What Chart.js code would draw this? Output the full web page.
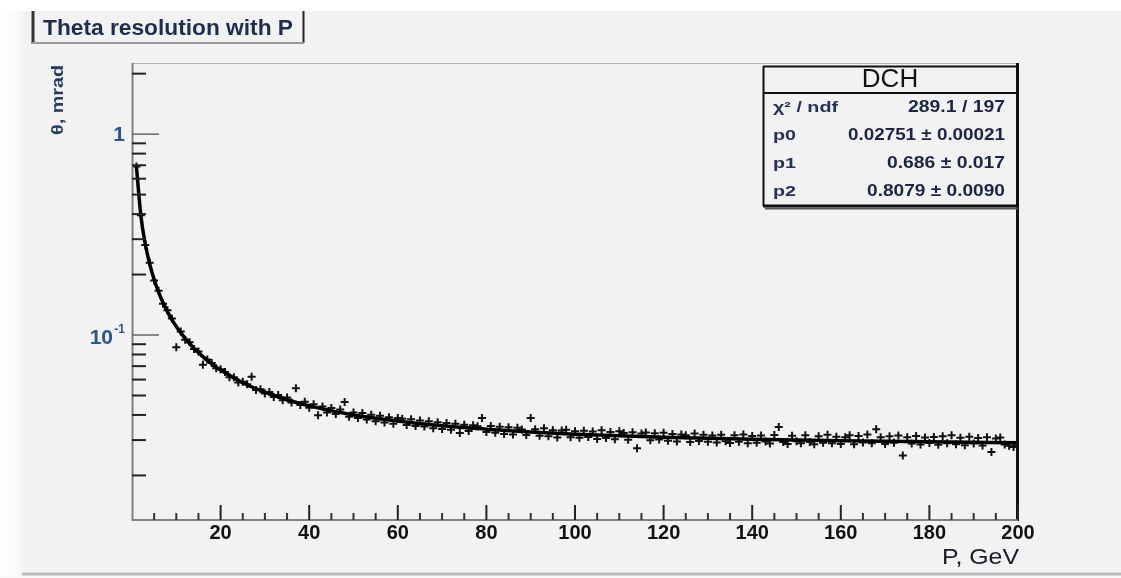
<!DOCTYPE html>
<html>
<head>
<meta charset="utf-8">
<script src="https://cdn.jsdelivr.net/npm/chart.js@4.4.1/dist/chart.umd.min.js"></script>
<style>
  html, body { margin: 0; background: #f2f2f2; overflow: hidden; }
  canvas { display: block; filter: blur(0.5px); }
</style>
</head>
<body>
<canvas id="myChart" width="1121" height="578"></canvas>
<script>
// bins in P (GeV), one per GeV, first bin at 1
const binFirst = 1;

// theta resolution per bin (mrad)
const thetaVals = [
  0.690, 0.395, 0.281, 0.229, 0.187, 0.166, 0.143, 0.133, 0.121, 0.087,
  0.1040, 0.0948, 0.0921, 0.0852, 0.0829, 0.0712, 0.0755, 0.0726, 0.0684, 0.0675,
  0.0655, 0.0617, 0.0616, 0.0581, 0.0586, 0.0568, 0.0620, 0.0532, 0.0537, 0.0512,
  0.0521, 0.0492, 0.0503, 0.0474, 0.0488, 0.0461, 0.0544, 0.0448, 0.0465, 0.0434,
  0.0452, 0.0399, 0.0441, 0.0412, 0.0433, 0.0404, 0.0426, 0.0464, 0.0392, 0.0411,
  0.0386, 0.0409, 0.0380, 0.0401, 0.0372, 0.0396, 0.0367, 0.0390, 0.0362, 0.0386,
  0.0383, 0.0357, 0.0381, 0.0352, 0.0375, 0.0350, 0.0372, 0.0343, 0.0368, 0.0341,
  0.0365, 0.0338, 0.0362, 0.0325, 0.0358, 0.0333, 0.0355, 0.0351, 0.0386, 0.0329,
  0.0352, 0.0326, 0.0349, 0.0322, 0.0347, 0.0320, 0.0345, 0.0339, 0.0318, 0.0386,
  0.0340, 0.0315, 0.0343, 0.0313, 0.0336, 0.0309, 0.0335, 0.0338, 0.0310, 0.0332,
  0.0308, 0.0334, 0.0311, 0.0331, 0.0304, 0.0336, 0.0307, 0.0329, 0.0303, 0.0332,
  0.0325, 0.0301, 0.0328, 0.0273, 0.0323, 0.0327, 0.0299, 0.0324, 0.0302, 0.0326,
  0.0298, 0.0322, 0.0295, 0.0320, 0.0317, 0.0293, 0.0323, 0.0297, 0.0319, 0.0294,
  0.0316, 0.0292, 0.0319, 0.0296, 0.0290, 0.0317, 0.0294, 0.0320, 0.0289, 0.0314,
  0.0291, 0.0316, 0.0295, 0.0288, 0.0318, 0.0348, 0.0293, 0.0287, 0.0315, 0.0296,
  0.0289, 0.0317, 0.0293, 0.0286, 0.0313, 0.0291, 0.0319, 0.0289, 0.0312, 0.0287,
  0.0310, 0.0317, 0.0286, 0.0314, 0.0292, 0.0320, 0.0289, 0.0340, 0.0310, 0.0287,
  0.0313, 0.0291, 0.0316, 0.0251, 0.0310, 0.0288, 0.0314, 0.0285, 0.0309, 0.0290,
  0.0311, 0.0284, 0.0313, 0.0289, 0.0317, 0.0286, 0.0308, 0.0283, 0.0312, 0.0288,
  0.0307, 0.0282, 0.0310, 0.0262, 0.0305, 0.0309, 0.0285, 0.0281, 0.0277, 0.0283
];

// fitted curve
const fitP = [1, 2, 3, 4, 5, 6, 7, 8, 9, 10, 12, 14, 16, 18, 20, 25, 30, 35, 40, 50,
  60, 70, 80, 90, 100, 120, 140, 160, 180, 200];
const fitVals = [0.6866, 0.3928, 0.2837, 0.2255, 0.1890, 0.1637, 0.1451, 0.1308, 0.1194, 0.1102,
  0.0962, 0.0859, 0.0781, 0.0719, 0.0669, 0.0579, 0.0519, 0.0476, 0.0444, 0.0400,
  0.0373, 0.0353, 0.0340, 0.0329, 0.0321, 0.0310, 0.0303, 0.0298, 0.0294, 0.0291];

// axes
const xMajorTicks = [20, 40, 60, 80, 100, 120, 140, 160, 180, 200];
const xTickLabels = ["20", "40", "60", "80", "100", "120", "140", "160", "180", "200"];
const xMinorTicks = [5, 10, 15, 25, 30, 35, 45, 50, 55, 65, 70, 75, 85, 90, 95, 105, 110, 115,
  125, 130, 135, 145, 150, 155, 165, 170, 175, 185, 190, 195];
const yMajorTicks = [0.1, 1];
const yMinorTicks = [0.02, 0.03, 0.04, 0.05, 0.06, 0.07, 0.08, 0.09,
  0.2, 0.3, 0.4, 0.5, 0.6, 0.7, 0.8, 0.9, 2];

// stats box
const statLabels = ["χ² / ndf", "p0", "p1", "p2"];
const statValues = ["289.1 / 197", "0.02751 ± 0.00021", "0.686 ± 0.017", "0.8079 ± 0.0090"];

const FONT = "'Liberation Sans', Arial, sans-serif";
const ctx = document.getElementById("myChart");

const drawText = (c, s, x, y, font, color, align, w) => {
  c.save();
  c.font = font;
  c.fillStyle = color;
  c.textAlign = align;
  c.textBaseline = "middle";
  c.translate(x, y);
  if (w) {
    const m = c.measureText(s).width;
    c.scale(w / m, 1);
  }
  c.fillText(s, 0, 0);
  c.restore();
};

const line = (c, x1, y1, x2, y2, color, width) => {
  c.strokeStyle = color;
  c.lineWidth = width;
  c.beginPath();
  c.moveTo(x1, y1);
  c.lineTo(x2, y2);
  c.stroke();
};

// page background, white margins
const pagePlugin = {
  id: "page",
  beforeDraw(chart) {
    const c = chart.ctx;
    c.save();
    c.fillStyle = "#f2f2f2";
    c.fillRect(0, 0, chart.width, chart.height);
    c.fillStyle = "#ffffff";
    c.fillRect(0, 0, chart.width, 11);
    const g = c.createLinearGradient(0, 0, 26, 0);
    g.addColorStop(0, "#ffffff");
    g.addColorStop(0.6, "#fbfbfb");
    g.addColorStop(1, "#f2f2f2");
    c.fillStyle = g;
    c.fillRect(0, 11, 26, chart.height - 11);
    line(c, 22, 574, chart.width, 574, "#bdbdbd", 3);
    c.fillStyle = "#f9f9f9";
    c.fillRect(0, 576, chart.width, 2);
    c.restore();
  },
};

// ROOT-like frame, ticks, labels, title and stats box
const framePlugin = {
  id: "frame",
  afterDraw(chart) {
    const c = chart.ctx;
    const a = chart.chartArea;
    const xs = chart.scales.x;
    const ys = chart.scales.y;
    c.save();

    // frame
    line(c, a.left, a.top + 0.5, a.right, a.top + 0.5, "#b4b4b4", 1);
    line(c, a.right - 0.5, a.top, a.right - 0.5, a.bottom + 1, "#111", 3);
    line(c, a.left, a.bottom, a.right, a.bottom, "#808080", 2);
    line(c, a.left + 0.5, a.top, a.left + 0.5, a.bottom + 1, "#808080", 2);

    // x ticks
    xMinorTicks.forEach((v) => {
      const x = xs.getPixelForValue(v);
      line(c, x, a.bottom, x, a.bottom - 7, "#333", 2);
    });
    xMajorTicks.forEach((v, i) => {
      const x = xs.getPixelForValue(v);
      line(c, x, a.bottom, x, a.bottom - 15, "#222", 2);
      drawText(c, xTickLabels[i], x, a.bottom + 13, "bold 20px " + FONT, "#111", "center");
    });
    drawText(c, "P, GeV", a.right + 1, a.bottom + 38, "22px " + FONT, "#1a1a2a", "right", 77);

    // y ticks
    yMinorTicks.forEach((v) => {
      const y = ys.getPixelForValue(v);
      line(c, a.left, y, a.left + 14, y, "#222", 2);
    });
    yMajorTicks.forEach((v) => {
      const y = ys.getPixelForValue(v);
      line(c, a.left, y, a.left + 27, y, "#666", 1.5);
    });
    const y1 = ys.getPixelForValue(1);
    drawText(c, "1", 125, y1 + 1, "bold 21px " + FONT, "#2a5590", "right");
    const y01 = ys.getPixelForValue(0.1);
    drawText(c, "-1", 125, y01 - 5, "bold 12px " + FONT, "#2a5590", "right");
    drawText(c, "10", 113, y01 + 3, "bold 21px " + FONT, "#2a5590", "right");

    // y title
    c.save();
    c.translate(58, 65);
    c.rotate(-Math.PI / 2);
    drawText(c, "θ, mrad", 0, 0, "bold 17px " + FONT, "#253a66", "right", 70);
    c.restore();

    // title box
    c.fillStyle = "#f2f2f2";
    c.fillRect(32, 11, 272, 32);
    line(c, 33, 11, 33, 44, "#333", 3);
    line(c, 303.5, 11, 303.5, 43, "#222", 2);
    line(c, 32, 43, 304, 43, "#9a9a9a", 2);
    drawText(c, "Theta resolution with P", 43, 29, "bold 22px " + FONT, "#1e2c50", "left", 250);

    // stats box
    const bx = 763, by = 66, bw = 255, bh = 140;
    c.fillStyle = "#f2f2f2";
    c.fillRect(bx, by, bw, bh);
    line(c, bx, by + 0.5, bx + bw, by + 0.5, "#111", 2);
    line(c, bx + 0.5, by, bx + 0.5, by + bh, "#111", 2);
    line(c, bx + bw - 0.5, by, bx + bw - 0.5, by + bh + 2, "#111", 3);
    line(c, bx, by + bh, bx + bw, by + bh, "#111", 3);
    line(c, bx + 2, by + bh + 2.5, bx + bw, by + bh + 2.5, "#555", 2);
    line(c, bx, 93, bx + bw, 93, "#111", 2);
    drawText(c, "DCH", 890, 80, "26px " + FONT, "#111", "center");
    const rowY = [108, 136, 164, 192];
    const valW = [97, 157, 118, 138];
    const labW = [65, 23, 23, 23];
    statLabels.forEach((s, i) => {
      drawText(c, s, 773, rowY[i], "bold 15px " + FONT, "#26305a", "left", labW[i]);
      drawText(c, statValues[i], 1005, rowY[i], "bold 16px " + FONT, "#1c2448", "right", valW[i]);
    });

    c.restore();
  },
};

const myChart = new Chart(ctx, {
  type: "scatter",
  data: {
    datasets: [
      {
        label: "fit",
        data: fitP.map((p, i) => ({ x: p, y: fitVals[i] })),
        showLine: true,
        borderColor: "#000",
        borderWidth: 3.5,
        pointRadius: 0,
        cubicInterpolationMode: "monotone",
      },
      {
        label: "DCH",
        data: thetaVals.map((v, i) => ({ x: binFirst + i, y: v })),
        pointStyle: "cross",
        pointRadius: 4,
        borderColor: "#111",
        borderWidth: 2,
      },
    ],
  },
  options: {
    responsive: false,
    animation: false,
    devicePixelRatio: 1,
    layout: { padding: { left: 132, top: 63, right: 103, bottom: 58 } },
    plugins: { legend: { display: false }, tooltip: { enabled: false } },
    scales: {
      x: { type: "linear", min: 0, max: 200, display: false },
      y: { type: "logarithmic", min: 0.012, max: 2.26, display: false },
    },
  },
  plugins: [pagePlugin, framePlugin],
});
</script>
</body>
</html>
